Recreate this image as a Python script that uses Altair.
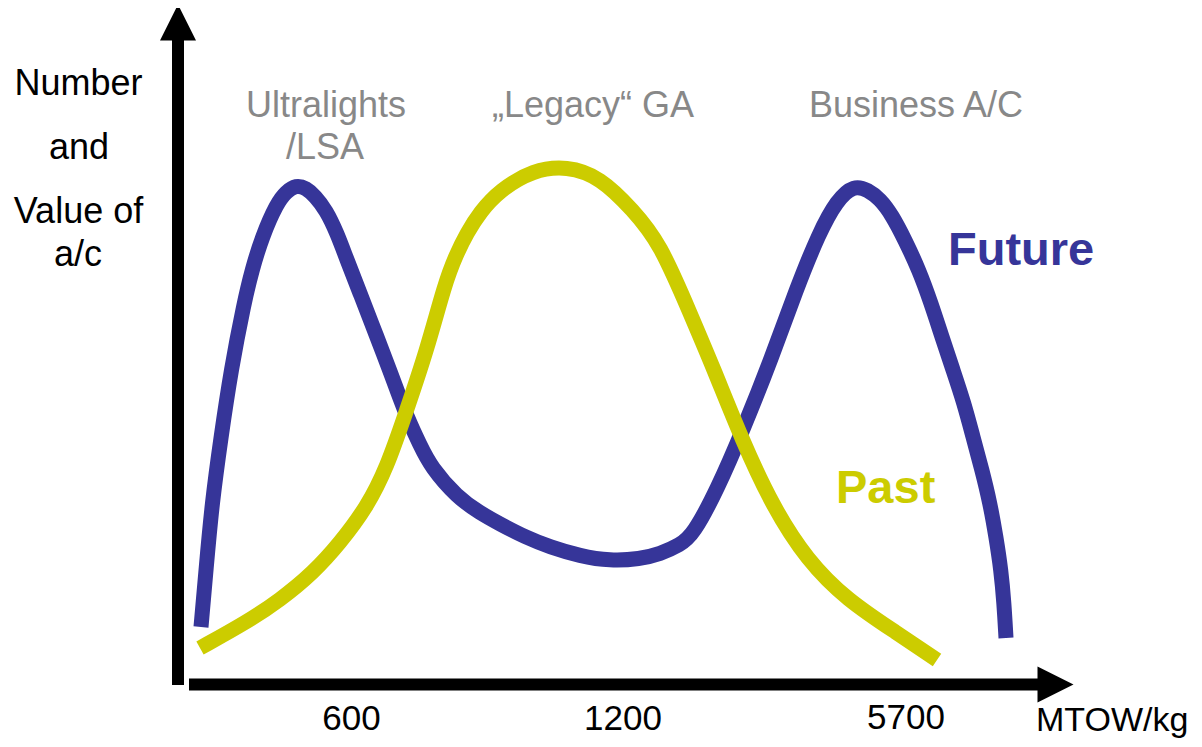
import altair as alt
import pandas as pd

BLUE = "#363599"
YELLOW = "#CCCC00"
GRAY = "#888888"
FONT = "Liberation Sans"

# Curves (horizontal position = MTOW class, vertical = number/value, picture units)
future_x = [201, 206, 212, 221, 231, 244, 252, 262, 277, 286, 296, 306, 315, 326, 337, 347,
            360, 373, 382, 397, 407, 420, 431, 457, 480, 500, 525, 550, 580, 610, 640, 660, 680,
            693, 717, 743, 772, 796, 819, 837, 854, 868, 880, 892, 905, 919, 931, 942, 953,
            964, 973, 982, 990, 996, 1001, 1004, 1006]
future_y = [627, 570, 503, 437, 370, 303, 270, 237, 203, 192, 185, 188, 196, 210, 233, 260,
            293, 327, 350, 390, 417, 445, 467, 497, 513, 524, 537, 547, 556, 561, 559, 554, 545,
            535, 490, 430, 357, 290, 233, 200, 185, 190, 199, 215, 240, 270, 303, 337, 370,
            403, 437, 470, 503, 537, 570, 603, 638]

past_x = [200, 247, 280, 313, 340, 367, 387, 405, 427, 445, 456, 467, 480, 500, 533, 567,
          600, 633, 660, 690, 713, 742, 773, 807, 847, 897, 937]
past_y = [648, 622, 600, 573, 543, 507, 467, 415, 350, 283, 255, 233, 212, 190, 170, 166,
          177, 210, 243, 313, 367, 440, 507, 560, 600, 633, 660]

# Axis arrows
shaft_x = [178, 189]
shaft_y = [685, 684.5]
shaft_x2 = [178, 1040]
shaft_y2 = [38, 684.5]
head_up = (178, 22.5)
head_right = (1055.5, 684.5)

# Texts
ylab_text = ["Number", "and", "Value of", "a/c"]
ylab_x = [78.5, 79, 78.5, 78]
ylab_y = [95, 159, 223, 266]

cat_text = ["Ultralights", "/LSA", "\u201eLegacy\u201c GA", "Business A/C"]
cat_x = [326, 325, 593, 916]
cat_y = [117, 159, 117, 117]

tick_text = ["600", "1200", "5700"]
tick_x = [351.5, 623, 906]
tick_y = [730, 730, 729]

X = alt.Scale(domain=[8, 1194], nice=False, zero=False)
Y = alt.Scale(domain=[739, 8], nice=False, zero=False)


def enc(ch):
    return ch.encode(x=alt.X("x:Q", scale=X, axis=None), y=alt.Y("y:Q", scale=Y, axis=None))


future_df = pd.DataFrame({"x": future_x, "y": future_y})
past_df = pd.DataFrame({"x": past_x, "y": past_y})

future_line = enc(alt.Chart(future_df).mark_line(
    color=BLUE, strokeWidth=15, interpolate="basis", strokeCap="butt"))
past_line = enc(alt.Chart(past_df).mark_line(
    color=YELLOW, strokeWidth=15, interpolate="basis", strokeCap="butt"))

shafts = alt.Chart(pd.DataFrame({"x": shaft_x, "y": shaft_y, "x2": shaft_x2, "y2": shaft_y2})).mark_rule(
    color="black", strokeWidth=12, strokeCap="butt").encode(
    x=alt.X("x:Q", scale=X, axis=None), y=alt.Y("y:Q", scale=Y, axis=None), x2="x2:Q", y2="y2:Q")

up = enc(alt.Chart(pd.DataFrame({"x": [head_up[0]], "y": [head_up[1]]})).mark_point(
    shape="M0,-1L1,1L-1,1Z", size=36 * 36, filled=True, color="black", opacity=1, strokeWidth=0))
right = enc(alt.Chart(pd.DataFrame({"x": [head_right[0]], "y": [head_right[1]]})).mark_point(
    shape="M1,0L-1,-1L-1,1Z", size=36 * 36, filled=True, color="black", opacity=1, strokeWidth=0))


def texts(t, xs, ys, **kw):
    df = pd.DataFrame({"t": t, "x": xs, "y": ys})
    return enc(alt.Chart(df).mark_text(font=FONT, baseline="alphabetic", **kw)).encode(text="t:N")


ylab = texts(ylab_text, ylab_x, ylab_y, align="center", fontSize=36, color="black")
cats = texts(cat_text, cat_x, cat_y, align="center", fontSize=36, color=GRAY)
ticks = texts(tick_text, tick_x, tick_y, align="center", fontSize=35, color="black")
mtow = texts(["MTOW/kg"], [1036], [731], align="left", fontSize=34, color="black")
fut = texts(["Future"], [948], [265], align="left", fontSize=47, fontWeight="bold", color=BLUE)
pas = texts(["Past"], [836], [503], align="left", fontSize=47, fontWeight="bold", color=YELLOW)

chart = alt.layer(
    shafts, up, right, future_line, past_line, ylab, cats, ticks, mtow, fut, pas
).properties(width=1186, height=731, autosize="none", padding=0).configure_view(stroke=None)

chart.save("out.html", embed_options={"renderer": "svg", "actions": False})
